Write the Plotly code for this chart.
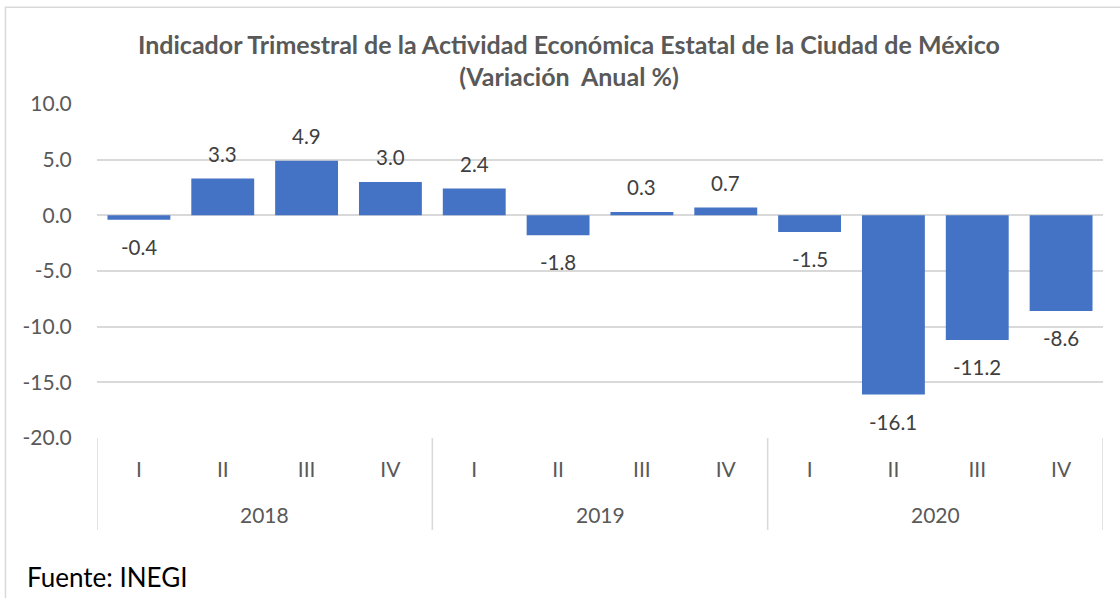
import plotly.graph_objects as go

# ---- data ----
years = ["2018", "2019", "2020"]
quarters = ["I", "II", "III", "IV"]
values = [-0.4, 3.3, 4.9, 3.0, 2.4, -1.8, 0.3, 0.7, -1.5, -16.1, -11.2, -8.6]
y_ticks = [10, 5, 0, -5, -10, -15, -20]
title_lines = ["Indicador Trimestral de la Actividad Económica Estatal de la Ciudad de México",
               "(Variación  Anual %)"]
source_text = "Fuente: INEGI"

FONT = "Lato"
GRID = "#D9D9D9"
BAR = "#4472C4"

nq = len(quarters)
idx = list(range(len(values)))
tick_text = [quarters[i % nq] for i in idx]

fig = go.Figure()
fig.add_trace(go.Bar(x=idx, y=values, width=0.75, marker=dict(color=BAR, line=dict(width=0)),
                     hoverinfo="skip"))

# data labels
for i, v in enumerate(values):
    fig.add_annotation(x=i, y=v, xref="x", yref="y", text=f"{v:.1f}", showarrow=False,
                       yanchor="middle", yshift=25 if v >= 0 else -27,
                       font=dict(family=FONT, size=20.5, color="#404040"))

# year labels and dividers
for k, yr in enumerate(years):
    fig.add_annotation(x=k * nq + (nq - 1) / 2, y=-0.2305, xref="x", yref="paper", text=yr,
                       showarrow=False, yanchor="middle",
                       font=dict(family=FONT, size=21, color="#595959"))
for k in range(len(years) + 1):
    xd = k * nq - 0.5
    fig.add_shape(type="line", xref="x", yref="paper", x0=xd, x1=xd, y0=0, y1=-0.2754,
                  line=dict(color=GRID, width=1.5))

# outer border
fig.add_shape(type="rect", xref="paper", yref="paper", x0=-0.091, x1=1.03, y0=-0.52, y1=1.290,
              line=dict(color=GRID, width=1.5), fillcolor="rgba(0,0,0,0)", layer="below")

# source
fig.add_annotation(x=-0.072, y=-0.416, xref="paper", yref="paper", text=source_text,
                   showarrow=False, xanchor="left", yanchor="middle",
                   font=dict(family=FONT, size=26, color="#000000"))

fig.update_layout(
    width=1120, height=598,
    margin=dict(l=97, r=17, t=104, b=160),
    paper_bgcolor="white", plot_bgcolor="white",
    showlegend=False,
    title=dict(text="<br>".join(title_lines), x=0.508, xanchor="center",
               y=1 - 53.5 / 598, yanchor="middle", yref="container",
               font=dict(family=FONT, size=25, color="#595959", weight="bold")),
    xaxis=dict(range=[-0.5, len(values) - 0.5], tickmode="array", tickvals=idx, ticktext=tick_text,
               showgrid=False, zeroline=False, showline=False,
               ticks="outside", ticklen=13, tickcolor="rgba(0,0,0,0)",
               tickfont=dict(family=FONT, size=21, color="#595959")),
    yaxis=dict(range=[-20, 10], tickmode="array", tickvals=y_ticks,
               ticktext=[f"{t:.1f}" for t in y_ticks],
               showgrid=True, gridcolor=GRID, gridwidth=1.5, zeroline=False, showline=False,
               ticks="outside", ticklen=20, tickcolor="rgba(0,0,0,0)",
               tickfont=dict(family=FONT, size=21, color="#595959")),
)

fig.write_html("out.html", config={"displayModeBar": False},
               post_script="document.body.style.margin='0';document.body.style.overflow='hidden';")
